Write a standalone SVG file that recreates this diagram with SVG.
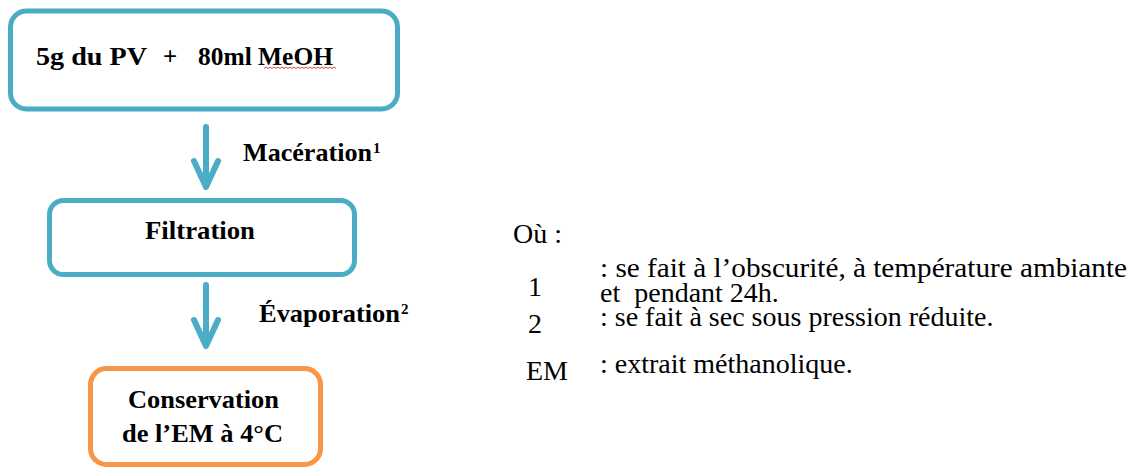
<svg xmlns="http://www.w3.org/2000/svg" width="1137" height="468" viewBox="0 0 1137 468">
  <style>
    .box { fill: #ffffff; stroke-width: 5; }
    .blue { stroke: #4bacc6; }
    .orange { stroke: #f79646; }
    .bold { font-family: "Liberation Serif", "Times New Roman", serif; font-weight: bold; font-size: 25px; fill: #000; }
    .sup { font-size: 15px; }
    .reg { font-family: "Liberation Serif", "Times New Roman", serif; font-size: 28px; fill: #000; }
    .conn { stroke: #4bacc6; stroke-width: 6; fill: none; stroke-linecap: round; stroke-linejoin: round; }
    .squiggle { stroke: #e04040; stroke-width: 1; fill: none; }
  </style>
  <defs>
    <filter id="soft" x="-50%" y="-20%" width="200%" height="140%">
      <feGaussianBlur stdDeviation="0.6"/>
    </filter>
  </defs>
  <rect width="1137" height="468" fill="#ffffff"/>

  <g id="node-pv">
    <rect class="box blue" x="10.5" y="11" width="387" height="98" rx="16"/>
    <text class="bold" x="36" y="65" textLength="111" lengthAdjust="spacingAndGlyphs">5g du PV</text>
    <text class="bold" x="163" y="65">+</text>
    <text class="bold" x="198" y="65" textLength="135" lengthAdjust="spacingAndGlyphs">80ml MeOH</text>
    <!-- wavy underline below "MeOH" -->
    <path class="squiggle" d="M264,68.5 l2,-1.5 l2,1.5 l2,-1.5 l2,1.5 l2,-1.5 l2,1.5 l2,-1.5 l2,1.5 l2,-1.5 l2,1.5 l2,-1.5 l2,1.5 l2,-1.5 l2,1.5 l2,-1.5 l2,1.5 l2,-1.5 l2,1.5 l2,-1.5 l2,1.5 l2,-1.5 l2,1.5 l2,-1.5 l2,1.5 l2,-1.5 l2,1.5 l2,-1.5 l2,1.5 l2,-1.5 l2,1.5 l2,-1.5 l2,1.5 l2,-1.5 l2,1.5 l2,-1.5 l2,1.5"/>
  </g>

  <g id="node-filtration">
    <rect class="box blue" x="49.5" y="200.5" width="305" height="74" rx="14"/>
    <text class="bold" x="145" y="239" textLength="110" lengthAdjust="spacingAndGlyphs">Filtration</text>
  </g>

  <g id="node-conservation">
    <rect class="box orange" x="90.5" y="368.5" width="230" height="96" rx="16"/>
    <text class="bold" x="128" y="408" textLength="151" lengthAdjust="spacingAndGlyphs">Conservation</text>
    <text class="bold" x="122" y="442" textLength="161" lengthAdjust="spacingAndGlyphs">de l’EM à 4°C</text>
  </g>

  <g id="connectors" filter="url(#soft)">
    <line class="conn" x1="206" y1="127" x2="206" y2="186"/>
    <polyline class="conn" points="194,161 206,187 218,161"/>
    <line class="conn" x1="206" y1="285" x2="206" y2="345"/>
    <polyline class="conn" points="194,320 206,346 218,320"/>
  </g>

  <g id="connector-labels">
    <text class="bold" x="243" y="161" textLength="129" lengthAdjust="spacingAndGlyphs">Macération</text>
    <text class="bold sup" x="373" y="153">1</text>
    <text class="bold" x="259" y="322" textLength="141" lengthAdjust="spacingAndGlyphs">Évaporation</text>
    <text class="bold sup" x="401" y="314">2</text>
  </g>

  <g id="legend">
    <text class="reg" x="513" y="243">Où :</text>
    <text class="reg" x="528" y="296">1</text>
    <text class="reg" x="600" y="277" textLength="527" lengthAdjust="spacingAndGlyphs">: se fait à l’obscurité, à température ambiante</text>
    <text class="reg" x="600" y="302" xml:space="preserve">et  pendant 24h.</text>
    <text class="reg" x="528" y="333">2</text>
    <text class="reg" x="600" y="326">: se fait à sec sous pression réduite.</text>
    <text class="reg" x="526" y="380">EM</text>
    <text class="reg" x="600" y="373">: extrait méthanolique.</text>
  </g>
</svg>
